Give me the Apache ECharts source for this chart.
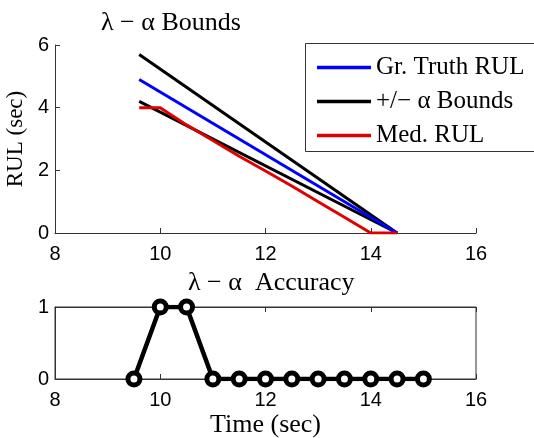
<!DOCTYPE html>
<html>
<head>
<meta charset="utf-8">
<script src="https://cdn.jsdelivr.net/npm/echarts@6/dist/echarts.min.js"></script>
<style>
html,body{margin:0;padding:0;background:#fff;}
#c{width:534px;height:438px;}
</style>
</head>
<body>
<div id="c"></div>
<script>
// ---- data ----
var boundTimes = [9.6, 14.5];
var truthRUL = [4.9, 0.0];
var upperBound = [5.7, 0.0];
var lowerBound = [4.2, 0.0];
var medTimes = [9.6, 10, 10.5, 11, 11.5, 12, 12.5, 13, 13.5, 14, 14.5];
var medRUL = [4.0, 4.0, 3.45, 2.95, 2.45, 1.98, 1.5, 1.0, 0.5, 0.0, 0.0];
var accTimes = [9.5, 10, 10.5, 11, 11.5, 12, 12.5, 13, 13.5, 14, 14.5, 15];
var accuracy = [0, 1, 1, 0, 0, 0, 0, 0, 0, 0, 0, 0];
var xTicks = [8, 10, 12, 14, 16];
var rulTicks = [0, 2, 4, 6];
var accTicks = [0, 1];

function pairs(xs, ys) { return xs.map(function (x, i) { return [x, ys[i]]; }); }

var SERIF = '"Liberation Serif", "DejaVu Serif", serif';
var SANS = '"Liberation Sans", Arial, sans-serif';
var axisCol = '#333';
var TICKFONT = 20;

var chart = echarts.init(document.getElementById('c'), null, {renderer: 'canvas'});

function xAxisCfg(grid, extra) {
  var base = {
    type: 'value', gridIndex: grid,
    min: xTicks[0], max: xTicks[xTicks.length - 1], interval: xTicks[1] - xTicks[0],
    axisLine: {show: true, onZero: false, lineStyle: {color: axisCol, width: 1}},
    axisTick: {show: true, inside: true, length: 5, lineStyle: {color: axisCol}},
    axisLabel: {color: '#000', fontFamily: SANS, fontSize: TICKFONT, margin: 11},
    splitLine: {show: false}
  };
  for (var k in extra) base[k] = extra[k];
  return base;
}

var option = {
  animation: false,
  backgroundColor: '#fff',
  title: [
    {text: 'λ − α Bounds', left: 96, top: 5,
     textStyle: {fontFamily: SERIF, fontSize: 26, fontWeight: 'normal', color: '#000'}},
    {text: 'λ − α  Accuracy', left: 183, top: 265,
     textStyle: {fontFamily: SERIF, fontSize: 26, fontWeight: 'normal', color: '#000'}}
  ],
  graphic: [
    {type: 'rect', left: 305, top: 43, z: 50,
     shape: {x: 0, y: 0, width: 260, height: 108},
     style: {fill: '#fff', stroke: axisCol, lineWidth: 1}}
  ],
  legend: {
    data: ['Gr. Truth RUL', '+/− α Bounds', 'Med. RUL'],
    orient: 'vertical',
    left: 305, top: 43, z: 60,
    padding: [12, 10, 3, 12],
    icon: 'rect',
    itemWidth: 54, itemHeight: 3.5, itemGap: 9,
    borderWidth: 0,
    textStyle: {fontFamily: SERIF, fontSize: 25, color: '#000', lineHeight: 25},
    selectedMode: false
  },
  grid: [
    {left: 55, top: 45, width: 421, height: 188, outerBoundsMode: 'none', containLabel: false},
    {left: 55, top: 307, width: 421, height: 72, show: true, borderColor: axisCol, borderWidth: 1,
     outerBoundsMode: 'none', containLabel: false}
  ],
  xAxis: [
    xAxisCfg(0, {}),
    xAxisCfg(1, {name: 'Time (sec)', nameLocation: 'middle', nameGap: 33,
                 nameTextStyle: {fontFamily: SERIF, fontSize: 26, color: '#000'}}),
    xAxisCfg(1, {position: 'top', axisLabel: {show: false}})
  ],
  yAxis: [
    {type: 'value', gridIndex: 0, min: rulTicks[0], max: rulTicks[rulTicks.length - 1], interval: rulTicks[1] - rulTicks[0],
     name: 'RUL (sec)', nameLocation: 'middle', nameGap: 24, nameRotate: 90,
     nameTextStyle: {fontFamily: SERIF, fontSize: 23, color: '#000'},
     axisLine: {show: true, lineStyle: {color: axisCol, width: 1}},
     axisTick: {show: true, inside: true, length: 5, lineStyle: {color: axisCol}},
     axisLabel: {color: '#000', fontFamily: SANS, fontSize: TICKFONT, margin: 6},
     splitLine: {show: false}},
    {type: 'value', gridIndex: 1, min: accTicks[0], max: accTicks[accTicks.length - 1], interval: accTicks[1] - accTicks[0],
     axisLine: {show: true, lineStyle: {color: axisCol, width: 1}},
     axisTick: {show: true, inside: true, length: 5, lineStyle: {color: axisCol}},
     axisLabel: {color: '#000', fontFamily: SANS, fontSize: TICKFONT, margin: 6},
     splitLine: {show: false}}
  ],
  series: [
    {name: '+/− α Bounds', type: 'line', xAxisIndex: 0, yAxisIndex: 0, symbol: 'none',
     data: pairs(boundTimes, upperBound), lineStyle: {color: '#000', width: 3}, itemStyle: {color: '#000'}, z: 2},
    {name: '+/− α Bounds', type: 'line', xAxisIndex: 0, yAxisIndex: 0, symbol: 'none',
     data: pairs(boundTimes, lowerBound), lineStyle: {color: '#000', width: 3}, itemStyle: {color: '#000'}, z: 2},
    {name: 'Gr. Truth RUL', type: 'line', xAxisIndex: 0, yAxisIndex: 0, symbol: 'none',
     data: pairs(boundTimes, truthRUL), lineStyle: {color: '#0000ff', width: 3}, itemStyle: {color: '#0000ff'}, z: 3},
    {name: 'Med. RUL', type: 'line', xAxisIndex: 0, yAxisIndex: 0, symbol: 'none',
     data: pairs(medTimes, medRUL), lineStyle: {color: '#e00000', width: 3}, itemStyle: {color: '#e00000'}, z: 4},
    {name: 'Accuracy', type: 'line', xAxisIndex: 1, yAxisIndex: 1,
     symbol: 'circle', symbolSize: 12,
     data: pairs(accTimes, accuracy),
     lineStyle: {color: '#000', width: 4.5},
     itemStyle: {color: '#fff', borderColor: '#000', borderWidth: 5}, z: 5}
  ]
};
chart.setOption(option);
</script>
</body>
</html>
